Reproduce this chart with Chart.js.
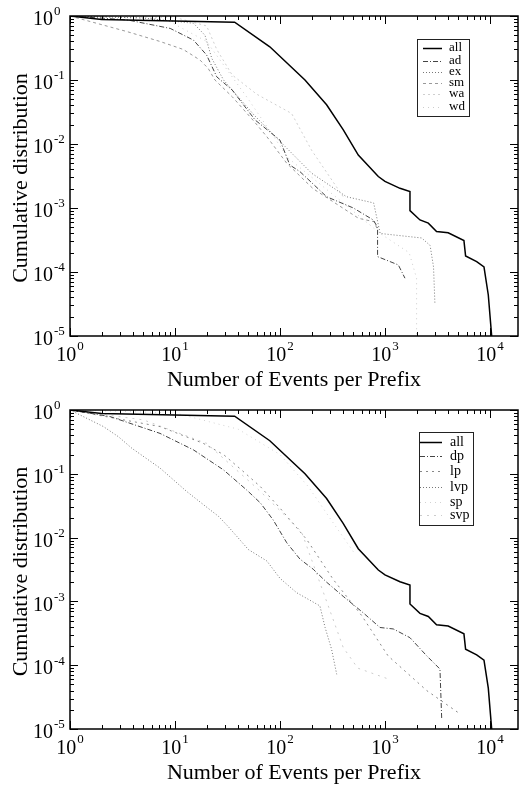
<!DOCTYPE html>
<html>
<head>
<meta charset="utf-8">
<script src="https://cdn.jsdelivr.net/npm/chart.js@4.4.0/dist/chart.umd.min.js"></script>
<style>
body { margin: 0; background: #fff; }
#wrap { position: relative; width: 521px; height: 785px; }
canvas { position: absolute; left: 0; }
</style>
</head>
<body>
<div id="wrap">
  <canvas id="c1" width="521" height="392" style="top:0"></canvas>
  <canvas id="c2" width="521" height="393" style="top:392px"></canvas>
</div>
<script>
// axis ticks (decades)
var xDecades = [0, 1, 2, 3, 4];
var yDecades = [0, -1, -2, -3, -4, -5];

// "all" curve, same in both panels
var allX = [1, 2, 37, 80, 173, 278, 401, 557, 864, 1000, 1390, 1730, 1730, 2154, 2587, 3100, 4000, 5650, 5860, 7470, 8770, 9640, 10380];
var allY = [1, 0.88, 0.8, 0.33, 0.1, 0.041, 0.0166, 0.0067, 0.0031, 0.0026, 0.00203, 0.0018, 0.00091, 0.00065, 0.00058, 0.00043, 0.00041, 0.00031, 0.000178, 0.000145, 0.00012, 0.0000437, 0.00001];

// top panel
var adX = [1, 3.5, 9, 15, 20, 25, 35, 58, 100, 124, 155, 278, 500, 774, 850, 850, 1340, 1550];
var adY = [1, 0.87, 0.64, 0.42, 0.246, 0.112, 0.07, 0.0237, 0.0115, 0.0047, 0.0037, 0.0015, 0.001, 0.00065, 0.0005, 0.000174, 0.000129, 0.00008];
var exX = [1, 5, 15, 19.3, 22.4, 29, 57, 100, 200, 430, 780, 900, 2236, 2690, 2900, 2990];
var exY = [1, 0.93, 0.77, 0.5, 0.218, 0.1, 0.028, 0.011, 0.0035, 0.0015, 0.0012, 0.0004, 0.00034, 0.00026, 0.00012, 0.000032];
var smX = [1, 3.5, 7.2, 12, 17.3, 20.7, 24, 35, 57, 75, 116, 207, 560, 790, 850];
var smY = [1, 0.57, 0.4, 0.3, 0.205, 0.152, 0.1, 0.055, 0.0223, 0.013, 0.005, 0.002, 0.00069, 0.00061, 0.00045];
var waX = [1, 10, 20, 25, 35, 60, 129, 200, 400];
var waY = [1, 0.95, 0.7, 0.3, 0.12, 0.06, 0.03, 0.008, 0.0015];
var wdX = [1, 8, 20, 50, 120, 400, 900, 1700, 2000, 2000];
var wdY = [1, 0.9, 0.4, 0.05, 0.006, 0.0012, 0.0004, 0.0002, 0.00008, 0.00001];

// bottom panel
var dpX = [1, 2.4, 7.2, 15, 29, 48, 65, 86, 116, 155, 207, 278, 400, 622, 896, 1200, 1730, 2500, 3340, 3470];
var dpY = [1, 0.79, 0.43, 0.237, 0.115, 0.056, 0.035, 0.019, 0.0083, 0.0046, 0.0032, 0.002, 0.0012, 0.00066, 0.00039, 0.00037, 0.00027, 0.00014, 0.000087, 0.0000144];
var lpX = [1, 7.2, 18.6, 29, 43, 65, 100, 180, 322, 600, 1070, 2500, 5000];
var lpY = [1, 0.55, 0.3, 0.2, 0.115, 0.063, 0.029, 0.0093, 0.0022, 0.0006, 0.00014, 0.00004, 0.000018];
var lvpX = [1, 2.08, 2.9, 3.9, 7.2, 12.9, 18.6, 26, 32, 50, 75, 100, 144, 240, 269, 310, 347];
var lvpY = [1, 0.55, 0.38, 0.25, 0.123, 0.053, 0.033, 0.0215, 0.015, 0.0065, 0.0043, 0.0023, 0.00137, 0.00085, 0.00039, 0.000178, 0.000072];
var spX = [1, 10, 40, 100, 186, 300, 500];
var spY = [1, 0.9, 0.5, 0.2, 0.063, 0.02, 0.006];
var svpX = [1, 5, 20, 60, 160, 400, 550, 1100];
var svpY = [1, 0.7, 0.3, 0.06, 0.0125, 0.00019, 0.00009, 0.00006];

var serif = '"Liberation Serif", "DejaVu Serif", serif';

function pts(xs, ys) {
  return xs.map(function (x, i) { return { x: x, y: ys[i] }; });
}

function ds(label, xs, ys, color, width, dash) {
  return {
    label: label, data: pts(xs, ys), borderColor: color, borderWidth: width,
    borderDash: dash, pointRadius: 0, showLine: true, fill: false, tension: 0
  };
}

function line(ctx, x1, y1, x2, y2) {
  ctx.beginPath(); ctx.moveTo(x1, y1); ctx.lineTo(x2, y2); ctx.stroke();
}

// frame, inward ticks, power-of-ten labels, titles and boxed legend
var frame = {
  id: 'frame',
  afterDraw: function (chart, args, o) {
    var ctx = chart.ctx, a = chart.chartArea;
    var xs = chart.scales.x, ys = chart.scales.y;
    ctx.save();
    ctx.strokeStyle = '#000';
    ctx.lineWidth = 1;
    xDecades.forEach(function (e) {
      for (var m = 1; m < 10; m++) {
        var v = m * Math.pow(10, e);
        if (v > xs.max) break;
        var px = Math.round(xs.getPixelForValue(v)) + 0.5;
        var len = m === 1 ? 8 : 4;
        line(ctx, px, a.bottom, px, a.bottom - len);
        line(ctx, px, a.top, px, a.top + len);
      }
    });
    yDecades.forEach(function (e) {
      for (var m = 1; m < 10; m++) {
        var v = m * Math.pow(10, e);
        if (v > ys.max) break;
        var py = Math.round(ys.getPixelForValue(v)) + 0.5;
        var len = m === 1 ? 8 : 4;
        line(ctx, a.left, py, a.left + len, py);
        line(ctx, a.right, py, a.right - len, py);
      }
    });
    ctx.lineWidth = 1.5;
    ctx.strokeRect(a.left, a.top, a.right - a.left, a.bottom - a.top);

    ctx.fillStyle = '#000';
    ctx.textBaseline = 'middle';
    // y labels
    yDecades.forEach(function (e) {
      var py = ys.getPixelForValue(Math.pow(10, e));
      ctx.font = '20px ' + serif;
      ctx.textAlign = 'left';
      ctx.fillText('10', 33, py + 4);
      var w = ctx.measureText('10').width;
      ctx.font = '13px ' + serif;
      ctx.fillText(String(e), 33 + w + 1, py - 4);
    });
    // x labels
    xDecades.forEach(function (e) {
      var px = xs.getPixelForValue(Math.pow(10, e));
      ctx.font = '20px ' + serif;
      var w1 = ctx.measureText('10').width;
      ctx.font = '13px ' + serif;
      var w2 = ctx.measureText(String(e)).width;
      var x0 = px - (w1 + w2 + 1) / 2;
      ctx.font = '20px ' + serif;
      ctx.textAlign = 'left';
      ctx.fillText('10', x0, a.bottom + 20);
      ctx.font = '13px ' + serif;
      ctx.fillText(String(e), x0 + w1 + 1, a.bottom + 11);
    });
    // titles
    ctx.font = '22px ' + serif;
    ctx.textAlign = 'center';
    ctx.textBaseline = 'alphabetic';
    ctx.fillText(o.xTitle, (a.left + a.right) / 2, a.bottom + 50);
    ctx.save();
    ctx.translate(27, (a.top + a.bottom) / 2 + 2);
    ctx.rotate(-Math.PI / 2);
    ctx.fillText(o.yTitle, 0, 0);
    ctx.restore();

    // legend
    var L = o.legend;
    ctx.fillStyle = '#fff';
    ctx.fillRect(L.box[0], L.box[1], L.box[2] - L.box[0], L.box[3] - L.box[1]);
    ctx.strokeStyle = '#222';
    ctx.lineWidth = 1;
    ctx.strokeRect(L.box[0] + 0.5, L.box[1] + 0.5, L.box[2] - L.box[0], L.box[3] - L.box[1]);
    ctx.font = L.font + 'px ' + serif;
    ctx.textAlign = 'left';
    ctx.textBaseline = 'middle';
    chart.data.datasets.forEach(function (d, i) {
      var y = L.rows[i] + 0.5;
      ctx.strokeStyle = d.borderColor;
      ctx.lineWidth = d.borderWidth;
      ctx.setLineDash(d.borderDash || []);
      line(ctx, L.sx[0], y, L.sx[1], y);
      ctx.setLineDash([]);
      ctx.fillStyle = '#000';
      ctx.fillText(d.label, L.tx, L.rows[i]);
    });
    ctx.restore();
  }
};

function makeChart(id, datasets, padTop, padBottom, legend) {
  return new Chart(document.getElementById(id), {
    type: 'scatter',
    data: { datasets: datasets },
    plugins: [frame],
    options: {
      responsive: false,
      animation: false,
      devicePixelRatio: 1,
      layout: { padding: { left: 70, right: 3, top: padTop, bottom: padBottom } },
      scales: {
        x: { type: 'logarithmic', display: false, min: 1, max: Math.pow(10, 4.267) },
        y: { type: 'logarithmic', display: false, min: 1e-5, max: 1 }
      },
      plugins: {
        legend: { display: false },
        tooltip: { enabled: false },
        frame: {
          xTitle: 'Number of Events per Prefix',
          yTitle: 'Cumulative distribution',
          legend: legend
        }
      }
    }
  });
}

makeChart('c1', [
  ds('all', allX, allY, '#000', 1.5, []),
  ds('ad', adX, adY, '#444', 1, [5, 2, 1, 2]),
  ds('ex', exX, exY, '#777', 1, [1, 2]),
  ds('sm', smX, smY, '#999', 1, [3, 3]),
  ds('wa', waX, waY, '#cfcfcf', 1, [2, 3]),
  ds('wd', wdX, wdY, '#cccccc', 1, [1, 4])
], 16, 56, { box: [417, 39, 469, 116], rows: [48, 61, 72, 83, 94, 107], sx: [423, 442], tx: 449, font: 13 });

makeChart('c2', [
  ds('all', allX, allY, '#000', 1.5, []),
  ds('dp', dpX, dpY, '#444', 1, [5, 2, 1, 2]),
  ds('lp', lpX, lpY, '#888', 1, [2, 4]),
  ds('lvp', lvpX, lvpY, '#777', 1, [1, 2]),
  ds('sp', spX, spY, '#d2d2d2', 1, [1, 4]),
  ds('svp', svpX, svpY, '#cccccc', 1, [2, 5])
], 18, 56, { box: [419, 40, 473, 133], rows: [50, 64, 79, 95, 110, 123], sx: [420, 442], tx: 450, font: 14 });
</script>
</body>
</html>
